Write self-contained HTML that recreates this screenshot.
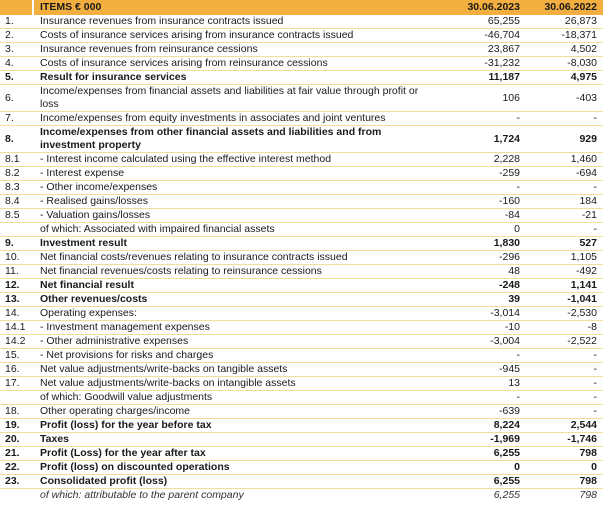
<!DOCTYPE html>
<html><head><meta charset="utf-8"><style>
html,body{margin:0;padding:0;background:#fff;width:603px;height:509px;overflow:hidden}
body{font-family:"Liberation Sans",sans-serif;font-size:10.5px;color:#1a1a1a}
table{border-collapse:collapse;width:603px;table-layout:fixed;position:absolute;top:0;left:0}
td{padding:0;height:13px;line-height:11px;border-bottom:1px solid #f6dc94;white-space:nowrap;vertical-align:middle;overflow:visible}
td.n{padding-left:5px}
td.v{text-align:right}
td.v2{text-align:right;padding-right:6px}
tr.h td{background:#f2ae3f;height:15px;font-weight:bold;border-bottom:none}
tr.h td.n{border-right:2px solid #fff}
tr.b td{font-weight:bold}
tr.d td{height:26px}
tr.d td.t{white-space:normal;line-height:13px}
tr.i td{font-style:italic;border-bottom:none;color:#333}
</style></head><body>
<table>
<colgroup><col style="width:33px"><col style="width:7px"><col style="width:398px"><col style="width:82px"><col style="width:83px"></colgroup>
<tr class="h"><td class="n"></td><td></td><td>ITEMS € 000</td><td class="v">30.06.2023</td><td class="v2">30.06.2022</td></tr>
<tr><td class="n">1.</td><td></td><td class="t">Insurance revenues from insurance contracts issued</td><td class="v">65,255</td><td class="v2">26,873</td></tr>
<tr><td class="n">2.</td><td></td><td class="t">Costs of insurance services arising from insurance contracts issued</td><td class="v">-46,704</td><td class="v2">-18,371</td></tr>
<tr><td class="n">3.</td><td></td><td class="t">Insurance revenues from reinsurance cessions</td><td class="v">23,867</td><td class="v2">4,502</td></tr>
<tr><td class="n">4.</td><td></td><td class="t">Costs of insurance services arising from reinsurance cessions</td><td class="v">-31,232</td><td class="v2">-8,030</td></tr>
<tr class="b"><td class="n">5.</td><td></td><td class="t">Result for insurance services</td><td class="v">11,187</td><td class="v2">4,975</td></tr>
<tr class="d"><td class="n">6.</td><td></td><td class="t">Income/expenses from financial assets and liabilities at fair value through profit or loss</td><td class="v">106</td><td class="v2">-403</td></tr>
<tr><td class="n">7.</td><td></td><td class="t">Income/expenses from equity investments in associates and joint ventures</td><td class="v">-</td><td class="v2">-</td></tr>
<tr class="b d"><td class="n">8.</td><td></td><td class="t">Income/expenses from other financial assets and liabilities and from investment property</td><td class="v">1,724</td><td class="v2">929</td></tr>
<tr><td class="n">8.1</td><td></td><td class="t">- Interest income calculated using the effective interest method</td><td class="v">2,228</td><td class="v2">1,460</td></tr>
<tr><td class="n">8.2</td><td></td><td class="t">- Interest expense</td><td class="v">-259</td><td class="v2">-694</td></tr>
<tr><td class="n">8.3</td><td></td><td class="t">- Other income/expenses</td><td class="v">-</td><td class="v2">-</td></tr>
<tr><td class="n">8.4</td><td></td><td class="t">- Realised gains/losses</td><td class="v">-160</td><td class="v2">184</td></tr>
<tr><td class="n">8.5</td><td></td><td class="t">- Valuation gains/losses</td><td class="v">-84</td><td class="v2">-21</td></tr>
<tr><td class="n"></td><td></td><td class="t">of which: Associated with impaired financial assets</td><td class="v">0</td><td class="v2">-</td></tr>
<tr class="b"><td class="n">9.</td><td></td><td class="t">Investment result</td><td class="v">1,830</td><td class="v2">527</td></tr>
<tr><td class="n">10.</td><td></td><td class="t">Net financial costs/revenues relating to insurance contracts issued</td><td class="v">-296</td><td class="v2">1,105</td></tr>
<tr><td class="n">11.</td><td></td><td class="t">Net financial revenues/costs relating to reinsurance cessions</td><td class="v">48</td><td class="v2">-492</td></tr>
<tr class="b"><td class="n">12.</td><td></td><td class="t">Net financial result</td><td class="v">-248</td><td class="v2">1,141</td></tr>
<tr class="b"><td class="n">13.</td><td></td><td class="t">Other revenues/costs</td><td class="v">39</td><td class="v2">-1,041</td></tr>
<tr><td class="n">14.</td><td></td><td class="t">Operating expenses:</td><td class="v">-3,014</td><td class="v2">-2,530</td></tr>
<tr><td class="n">14.1</td><td></td><td class="t">- Investment management expenses</td><td class="v">-10</td><td class="v2">-8</td></tr>
<tr><td class="n">14.2</td><td></td><td class="t">- Other administrative expenses</td><td class="v">-3,004</td><td class="v2">-2,522</td></tr>
<tr><td class="n">15.</td><td></td><td class="t">- Net provisions for risks and charges</td><td class="v">-</td><td class="v2">-</td></tr>
<tr><td class="n">16.</td><td></td><td class="t">Net value adjustments/write-backs on tangible assets</td><td class="v">-945</td><td class="v2">-</td></tr>
<tr><td class="n">17.</td><td></td><td class="t">Net value adjustments/write-backs on intangible assets</td><td class="v">13</td><td class="v2">-</td></tr>
<tr><td class="n"></td><td></td><td class="t">of which: Goodwill value adjustments</td><td class="v">-</td><td class="v2">-</td></tr>
<tr><td class="n">18.</td><td></td><td class="t">Other operating charges/income</td><td class="v">-639</td><td class="v2">-</td></tr>
<tr class="b"><td class="n">19.</td><td></td><td class="t">Profit (loss) for the year before tax</td><td class="v">8,224</td><td class="v2">2,544</td></tr>
<tr class="b"><td class="n">20.</td><td></td><td class="t">Taxes</td><td class="v">-1,969</td><td class="v2">-1,746</td></tr>
<tr class="b"><td class="n">21.</td><td></td><td class="t">Profit (Loss) for the year after tax</td><td class="v">6,255</td><td class="v2">798</td></tr>
<tr class="b"><td class="n">22.</td><td></td><td class="t">Profit (loss) on discounted operations</td><td class="v">0</td><td class="v2">0</td></tr>
<tr class="b"><td class="n">23.</td><td></td><td class="t">Consolidated profit (loss)</td><td class="v">6,255</td><td class="v2">798</td></tr>
<tr class="i"><td class="n"></td><td></td><td class="t">of which: attributable to the parent company</td><td class="v">6,255</td><td class="v2">798</td></tr>
</table>
</body></html>
